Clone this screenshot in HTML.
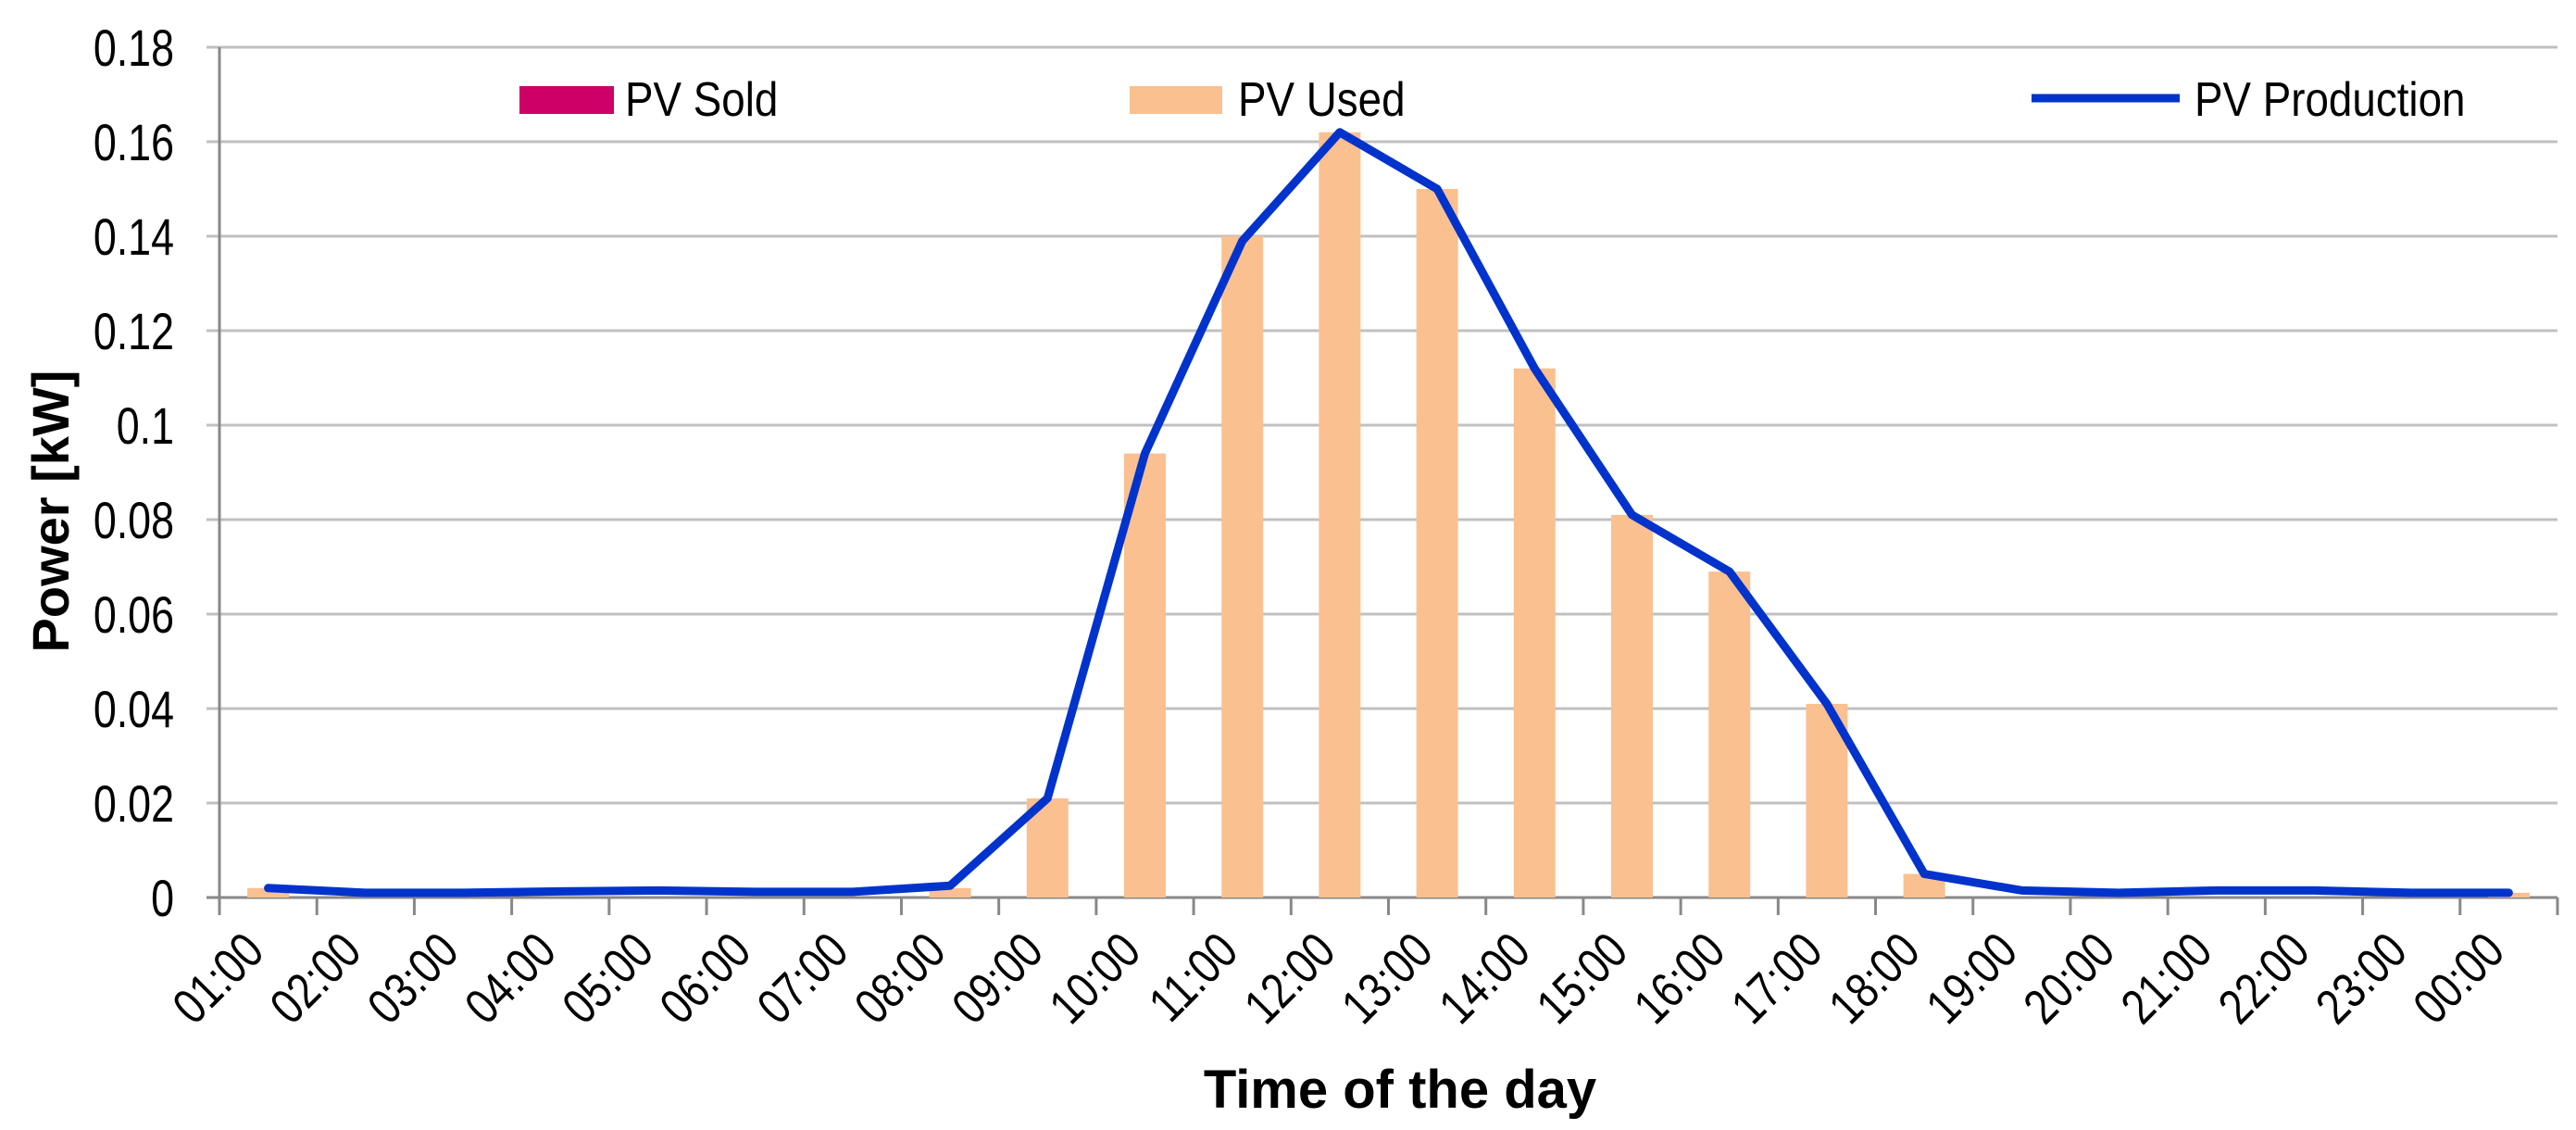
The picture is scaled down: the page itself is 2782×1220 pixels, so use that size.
<!DOCTYPE html>
<html><head><meta charset="utf-8"><style>
html,body{margin:0;padding:0;background:#fff}
svg{display:block;font-family:"Liberation Sans",sans-serif}
</style></head><body>
<svg id="chart" width="2782" height="1220" viewBox="0 0 2782 1220"></svg>
<script>
const categories=["01:00","02:00","03:00","04:00","05:00","06:00","07:00","08:00","09:00","10:00","11:00","12:00","13:00","14:00","15:00","16:00","17:00","18:00","19:00","20:00","21:00","22:00","23:00","00:00"];
const pvUsed=[0.002,0,0,0,0,0,0,0.002,0.021,0.094,0.14,0.162,0.15,0.112,0.081,0.069,0.041,0.005,0,0,0,0,0,0.001];
const pvSold=[0,0,0,0,0,0,0,0,0,0,0,0,0,0,0,0,0,0,0,0,0,0,0,0];
const pvProduction=[0.002,0.001,0.001,0.0013,0.0015,0.0012,0.0012,0.0025,0.021,0.094,0.139,0.162,0.15,0.112,0.081,0.069,0.041,0.005,0.0015,0.001,0.0015,0.0015,0.001,0.001];
const yTicks=[0,0.02,0.04,0.06,0.08,0.1,0.12,0.14,0.16,0.18];
const yTickLabels=["0","0.02","0.04","0.06","0.08","0.1","0.12","0.14","0.16","0.18"];

const NS="http://www.w3.org/2000/svg";
const svg=document.getElementById('chart');
const L=237,R=2762,T=51,B=969,yMax=0.18;
const cw=(R-L)/categories.length;
function x(i){return L+cw*(i+0.5);}
function y(v){return B-(v/yMax)*(B-T);}
function mk(tag,attrs,parent){const e=document.createElementNS(NS,tag);for(const k in attrs)e.setAttribute(k,attrs[k]);(parent||svg).appendChild(e);return e;}

yTicks.forEach((v,i)=>{
  const g=mk('line',{x1:L-14,x2:R,y1:y(v),y2:y(v),stroke:i===0?'#888':'#c0c0c0','stroke-width':3});
  
  
  const t=mk('text',{x:0,y:0,'text-anchor':'end','font-size':56,fill:'#000',transform:`translate(188 ${y(v)+20}) scale(0.8 1)`});
  t.textContent=yTickLabels[i];
  
  
});
const ax=mk('line',{x1:L,x2:L,y1:T,y2:B+19,stroke:'#888','stroke-width':3});


for(let i=0;i<=categories.length;i++){
  const tk=mk('line',{x1:L+cw*i,x2:L+cw*i,y1:B,y2:B+19,stroke:'#888','stroke-width':3});
  
  
}
categories.forEach((c,i)=>{
  const bw=45;
  const b=mk('rect',{x:x(i)-bw/2,y:y(pvUsed[i]),width:bw,height:B-y(pvUsed[i]),fill:'#fac090'});
  
  
  if(pvSold[i]>0){
    const s=mk('rect',{x:x(i)-bw/2,y:y(pvUsed[i]+pvSold[i]),width:bw,height:y(pvUsed[i])-y(pvUsed[i]+pvSold[i]),fill:'#cc0066'});
    
    
  }
  const px=x(i)-2,py=1030;
  const t=mk('text',{x:0,y:0,'text-anchor':'end','font-size':54,transform:`translate(${px} ${py}) rotate(-45) scale(0.82 1)`});
  t.textContent=c;
  
  
});
const pl=mk('polyline',{points:pvProduction.map((v,i)=>x(i)+','+y(v)).join(' '),fill:'none',stroke:'#0033cc','stroke-width':9,'stroke-linejoin':'round','stroke-linecap':'round'});



// legend
const l1=mk('rect',{x:561,y:93,width:102,height:30,fill:'#cc0066'});


const t1=mk('text',{x:0,y:0,'font-size':52,transform:'translate(675 125) scale(0.88 1)'});t1.textContent='PV Sold';


const l2=mk('rect',{x:1220,y:93,width:100,height:30,fill:'#fac090'});


const t2=mk('text',{x:0,y:0,'font-size':52,transform:'translate(1337 125) scale(0.88 1)'});t2.textContent='PV Used';


const l3=mk('line',{x1:2194,x2:2354,y1:106,y2:106,stroke:'#0033cc','stroke-width':9});


const t3=mk('text',{x:0,y:0,'font-size':52,transform:'translate(2370 125) scale(0.88 1)'});t3.textContent='PV Production';



const xt=mk('text',{x:1512,y:1196,'text-anchor':'middle','font-size':58,'font-weight':'bold'});xt.textContent='Time of the day';


const yt=mk('text',{x:74,y:552,'text-anchor':'middle','font-size':56,'font-weight':'bold',transform:'rotate(-90 74 552)'});yt.textContent='Power [kW]';


</script>
</body></html>
